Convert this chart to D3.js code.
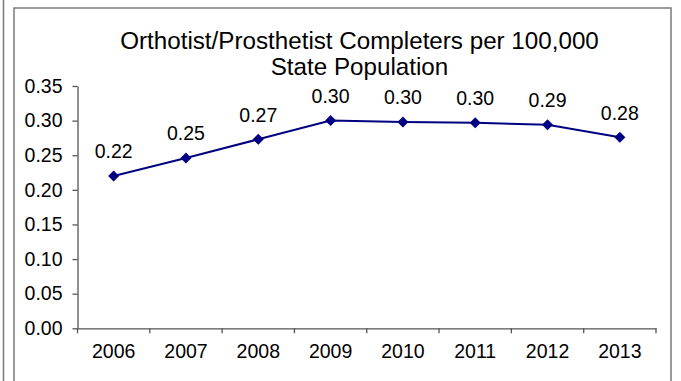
<!DOCTYPE html>
<html><head><meta charset="utf-8">
<script src="https://cdn.jsdelivr.net/npm/d3@7"></script>
<style>body{margin:0;background:#fff}svg{display:block}</style>
</head><body>
<script>
const years = ["2006","2007","2008","2009","2010","2011","2012","2013"];
const values = [0.220, 0.246, 0.273, 0.300, 0.298, 0.297, 0.294, 0.276];
const yTicks = [0, 0.05, 0.10, 0.15, 0.20, 0.25, 0.30, 0.35];
const titleLines = ["Orthotist/Prosthetist Completers per 100,000", "State Population"];

(function(){
const W = 681, H = 381;
const svg = d3.select("body").append("svg").attr("width", W).attr("height", H);
const font = "Liberation Sans, Arial, sans-serif";
const fs = 19.5;

// frames
svg.append("line").attr("x1",3.5).attr("x2",3.5).attr("y1",0).attr("y2",H).attr("stroke","#7a7a7a").attr("stroke-width",1.5);
svg.append("rect").attr("x",14).attr("y",8).attr("width",657).attr("height",H+10)
  .attr("fill","#fff").attr("stroke","#7a7a7a").attr("stroke-width",1.5);

const mLeft = 77.5, mRight = 656, mTop = 86, mBottom = 328.3;
const x = d3.scaleBand().domain(years).range([mLeft, mRight]);
const y = d3.scaleLinear().domain([0, 0.35]).range([mBottom, mTop]);

// title
svg.append("text").attr("x", 359.5).attr("y", 48.5).attr("text-anchor","middle")
  .attr("font-family", font).attr("font-size", 24.2).attr("fill","#000")
  .selectAll("tspan").data(titleLines).join("tspan")
  .attr("x", 359.5).attr("dy", (d,i)=> i===0 ? 0 : 26.5).text(d=>d);

// y axis
const ya = svg.append("g").attr("transform",`translate(${mLeft},0)`)
  .call(d3.axisLeft(y).tickValues(yTicks).tickFormat(d3.format(".2f")).tickSize(5).tickPadding(10).tickSizeOuter(0));
// x axis
const xa = svg.append("g").attr("transform",`translate(0,${mBottom})`)
  .call(d3.axisBottom(x).tickSize(0).tickPadding(16).tickSizeOuter(0));
[ya, xa].forEach(g=>{
  g.selectAll("path,line").attr("stroke","#555").attr("stroke-width",1.3);
  g.selectAll("text").attr("font-family", font).attr("font-size", fs).attr("fill","#000");
});
// category boundary ticks on x axis
const bounds = years.map(d=>x(d)).concat([mRight]);
svg.append("g").selectAll("line").data(bounds).join("line")
  .attr("x1",d=>d).attr("x2",d=>d).attr("y1",mBottom).attr("y2",mBottom+5)
  .attr("stroke","#555").attr("stroke-width",1.3);

const cx = d => x(d) + x.bandwidth()/2;
const pts = years.map((d,i)=>({year:d, v:values[i]}));

svg.append("path").datum(pts)
  .attr("d", d3.line().x(d=>cx(d.year)).y(d=>y(d.v)))
  .attr("fill","none").attr("stroke","#000080").attr("stroke-width",2);

svg.append("g").selectAll("path").data(pts).join("path")
  .attr("transform", d=>`translate(${cx(d.year)},${y(d.v)})`)
  .attr("d","M0,-5.5L5.5,0L0,5.5L-5.5,0Z").attr("fill","#000080");

svg.append("g").selectAll("text").data(pts).join("text")
  .attr("x", d=>cx(d.year)).attr("y", d=>y(d.v)-17.5)
  .attr("text-anchor","middle").attr("font-family", font).attr("font-size", fs)
  .attr("fill","#000").text(d=>d3.format(".2f")(d.v));
})();
</script>
</body></html>
